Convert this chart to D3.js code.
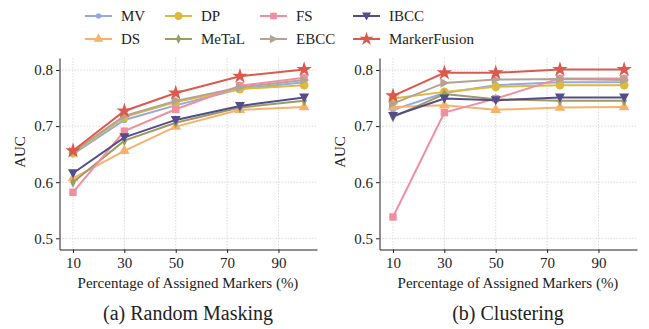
<!DOCTYPE html>
<html>
<head>
<meta charset="utf-8">
<script src="https://cdn.jsdelivr.net/npm/d3@7"></script>
<style>
  body { margin: 0; background: #fff; }
  svg text { font-family: "Liberation Serif", Tinos, "Times New Roman", Times, "DejaVu Serif", serif !important; fill: #222; }
  .grid line { stroke: #ccc; stroke-width: 0.7; stroke-dasharray: 1.5 1.5; }
  .axis path, .axis line { stroke: #222; stroke-width: 1; }
</style>
</head>
<body>
<svg id="viz" width="649" height="329"></svg>
<script>
const xValues = [10, 30, 50, 75, 100];
const xTicks = [10, 30, 50, 70, 90];
const yTicks = [0.5, 0.6, 0.7, 0.8];
const methods = ["MV", "DS", "DP", "MeTaL", "FS", "EBCC", "IBCC", "MarkerFusion"];

// Random Masking
const randomMV     = [0.650, 0.711, 0.737, 0.766, 0.778];
const randomDS     = [0.607, 0.656, 0.699, 0.729, 0.734];
const randomDP     = [0.652, 0.716, 0.743, 0.766, 0.773];
const randomMeTaL  = [0.600, 0.674, 0.706, 0.733, 0.745];
const randomFS     = [0.582, 0.691, 0.730, 0.772, 0.786];
const randomEBCC   = [0.654, 0.718, 0.745, 0.769, 0.782];
const randomIBCC   = [0.616, 0.680, 0.711, 0.736, 0.751];
const randomMF     = [0.656, 0.727, 0.759, 0.789, 0.801];

// Clustering
const clusterMV    = [0.729, 0.759, 0.773, 0.778, 0.778];
const clusterDS    = [0.734, 0.737, 0.729, 0.733, 0.734];
const clusterDP    = [0.749, 0.761, 0.770, 0.773, 0.773];
const clusterMeTaL = [0.716, 0.757, 0.748, 0.745, 0.745];
const clusterFS    = [0.538, 0.724, 0.749, 0.785, 0.785];
const clusterEBCC  = [0.740, 0.777, 0.783, 0.784, 0.782];
const clusterIBCC  = [0.718, 0.749, 0.746, 0.751, 0.751];
const clusterMF    = [0.754, 0.795, 0.795, 0.801, 0.801];

const colors = {
  MV: "#93a8e4", DS: "#f6b26b", DP: "#dcbb3c", MeTaL: "#9d9b63",
  FS: "#ef8fa0", EBCC: "#b4a392", IBCC: "#544d8b", MarkerFusion: "#dc5a4d"
};
const symbols = {
  MV: [d3.symbolCircle, 30], DS: [d3.symbolTriangle, 50], DP: [d3.symbolCircle, 60],
  MeTaL: ["diamond", 0], FS: [d3.symbolSquare, 55], EBCC: ["right", 0],
  IBCC: ["down", 0], MarkerFusion: [d3.symbolStar, 75]
};

const panels = [
  { title: "(a) Random Masking", dx: 0,
    series: [randomMV, randomDS, randomDP, randomMeTaL, randomFS, randomEBCC, randomIBCC, randomMF] },
  { title: "(b) Clustering", dx: 320,
    series: [clusterMV, clusterDS, clusterDP, clusterMeTaL, clusterFS, clusterEBCC, clusterIBCC, clusterMF] }
];

const svg = d3.select("#viz");

function drawMarker(g, name, x, y, scale = 1) {
  const [sym, size] = symbols[name];
  const c = colors[name];
  let d;
  if (sym === "diamond") d = "M0,-5.5L2.8,0L0,5.5L-2.8,0Z";
  else if (sym === "right") d = "M5,0L-4,-4.8L-4,4.8Z";
  else if (sym === "down") d = "M0,5L-5,-4L5,-4Z";
  else d = d3.symbol(sym, size)();
  g.append("path").attr("d", d)
    .attr("transform", `translate(${x},${y}) scale(${scale})`).attr("fill", c);
}

panels.forEach(p => {
  const g = svg.append("g").attr("transform", `translate(${p.dx},0)`);
  const x = d3.scaleLinear().domain([4.75, 105]).range([59.5, 317]);
  const y = d3.scaleLinear().domain([0.480, 0.8214]).range([249.5, 58]);

  const grid = g.append("g").attr("class", "grid");
  grid.selectAll(".gx").data(xTicks).join("line")
    .attr("x1", d => x(d)).attr("x2", d => x(d)).attr("y1", 58).attr("y2", 249.5);
  grid.selectAll(".gy").data(yTicks).join("line")
    .attr("y1", d => y(d)).attr("y2", d => y(d)).attr("x1", 59.5).attr("x2", 317);

  g.append("g").attr("class", "axis").attr("transform", "translate(0,249.5)")
    .call(d3.axisBottom(x).tickValues(xTicks).tickSize(3.5).tickSizeOuter(0).tickPadding(4));
  g.append("g").attr("class", "axis").attr("transform", "translate(59.5,0)")
    .call(d3.axisLeft(y).tickValues(yTicks).tickFormat(d3.format(".1f")).tickSize(3.5).tickSizeOuter(0).tickPadding(3));
  g.selectAll(".axis").attr("font-family", null);
  g.selectAll(".axis text").attr("font-size", 15).attr("fill", "#222");

  g.append("text").attr("x", 188).attr("y", 288).attr("text-anchor", "middle")
    .attr("font-size", 15).text("Percentage of Assigned Markers (%)");
  g.append("text").attr("transform", "translate(25,152) rotate(-90)").attr("text-anchor", "middle")
    .attr("font-size", 15).text("AUC");
  g.append("text").attr("x", 188).attr("y", 320).attr("text-anchor", "middle")
    .attr("font-size", 20).text(p.title);

  const line = d3.line().x((d, i) => x(xValues[i])).y(d => y(d));
  methods.forEach((m, k) => {
    const vals = p.series[k];
    const sg = g.append("g");
    sg.append("path").datum(vals).attr("d", line)
      .attr("fill", "none").attr("stroke", colors[m]).attr("stroke-width", 2);
    vals.forEach((v, i) => drawMarker(sg, m, x(xValues[i]), y(v)));
  });
});

// legend
const legendCols = [85, 165, 260, 353];
const legendRows = [16, 39];
const legendOrder = ["MV", "DP", "FS", "IBCC", "DS", "MeTaL", "EBCC", "MarkerFusion"];
const leg = svg.append("g");
legendOrder.forEach((m, i) => {
  const cx = legendCols[i % 4], cy = legendRows[Math.floor(i / 4)];
  leg.append("line").attr("x1", cx).attr("x2", cx + 27).attr("y1", cy).attr("y2", cy)
    .attr("stroke", colors[m]).attr("stroke-width", 2);
  drawMarker(leg, m, cx + 13.5, cy, 0.9);
  leg.append("text").attr("x", cx + 36).attr("y", cy + 5).attr("font-size", 15).text(m);
});
</script>
</body>
</html>
